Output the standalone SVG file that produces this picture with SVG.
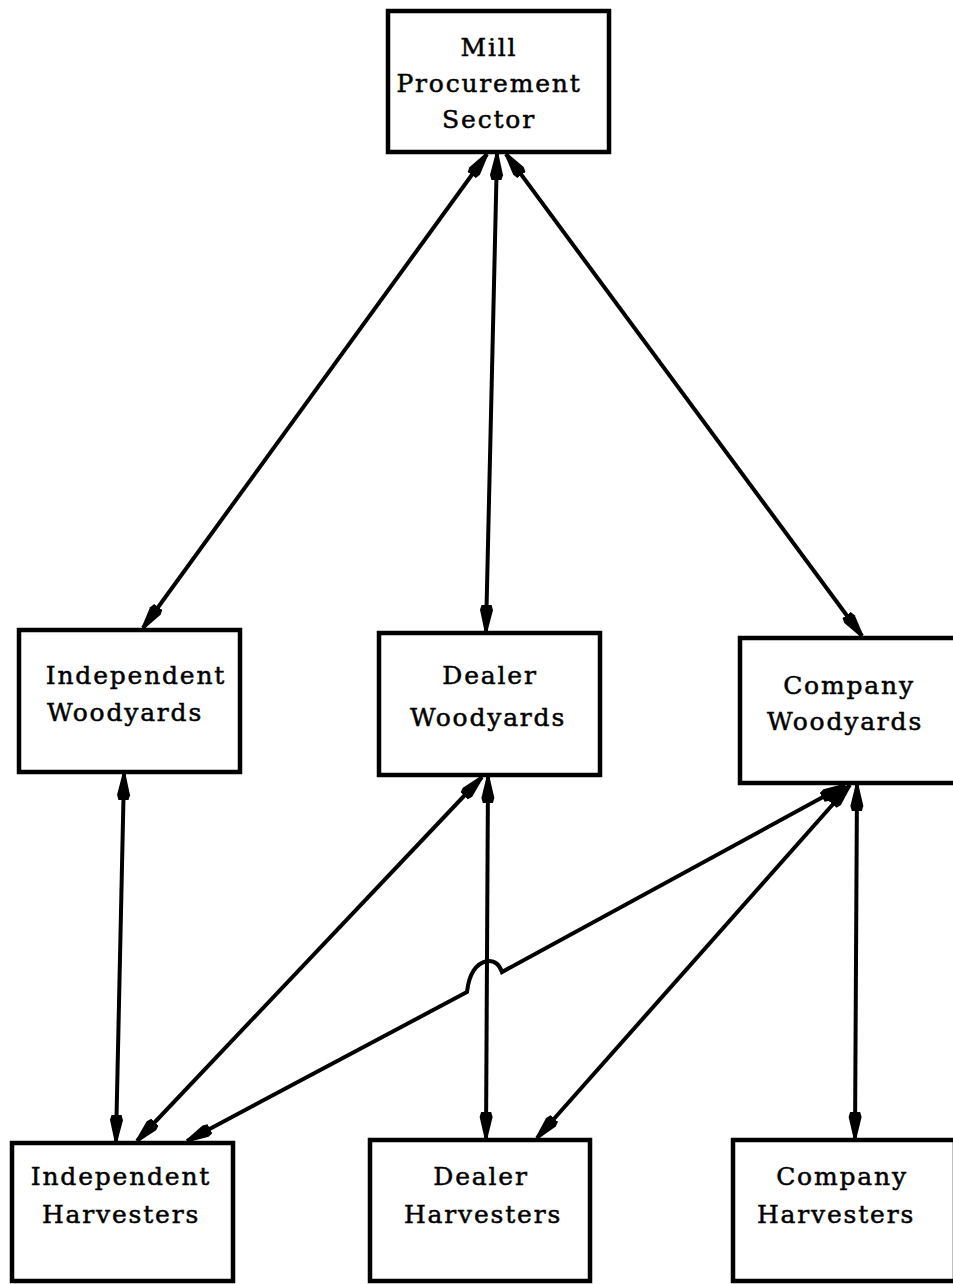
<svg xmlns="http://www.w3.org/2000/svg" width="953" height="1284" viewBox="0 0 953 1284">
<style>
.box{fill:#fff;stroke:#000;stroke-width:4.5}
.lbl{font-family:"DejaVu Serif","Liberation Serif",serif;font-size:25px;letter-spacing:1.8px;fill:#000;stroke:#000;stroke-width:0.5;text-anchor:middle}
.con{fill:none;stroke:#000;stroke-width:4;marker-start:url(#ah);marker-end:url(#ah)}
</style>
<defs>
<marker id="ah" markerUnits="userSpaceOnUse" markerWidth="28" markerHeight="18" viewBox="0 0 28 18" refX="26" refY="9" orient="auto-start-reverse">
<path d="M0,4 L5,2.5 L26,7.5 L26,10.5 L5,15.5 L0,14 z" fill="#000"/>
</marker>
</defs>
<rect width="953" height="1284" fill="#fff"/>
<g id="connectors">
<path class="con" d="M487,154 L143,628"/>
<path class="con" d="M497,154 L486,631"/>
<path class="con" d="M506,154 L862,636"/>
<path class="con" d="M124,774 L116,1141"/>
<path class="con" d="M482,777 L137,1141"/>
<path class="con" d="M488,777 L486,1138"/>
<path class="con" d="M845,785 L502,972 Q498,960 487,961 Q470,965 467,992 L187,1141"/>
<path class="con" d="M850,785 L537,1138"/>
<path class="con" d="M857,785 L855,1138"/>
</g>
<g id="mill">
<rect class="box" x="388" y="11" width="221" height="141"/>
<text class="lbl" x="489" y="56">Mill</text>
<text class="lbl" x="489" y="92">Procurement</text>
<text class="lbl" x="489" y="128">Sector</text>
</g>
<g id="indep-woodyards">
<rect class="box" x="19" y="630" width="221" height="142"/>
<text class="lbl" x="136" y="684">Independent</text>
<text class="lbl" x="125" y="721">Woodyards</text>
</g>
<g id="dealer-woodyards">
<rect class="box" x="379" y="633" width="221" height="142"/>
<text class="lbl" x="490" y="684">Dealer</text>
<text class="lbl" x="488" y="726">Woodyards</text>
</g>
<g id="company-woodyards">
<rect class="box" x="740" y="638" width="220" height="145"/>
<text class="lbl" x="849" y="694">Company</text>
<text class="lbl" x="845" y="730">Woodyards</text>
</g>
<g id="indep-harvesters">
<rect class="box" x="12" y="1143" width="221" height="138"/>
<text class="lbl" x="121" y="1185">Independent</text>
<text class="lbl" x="121" y="1223">Harvesters</text>
</g>
<g id="dealer-harvesters">
<rect class="box" x="370" y="1140" width="220" height="141"/>
<text class="lbl" x="481" y="1185">Dealer</text>
<text class="lbl" x="483" y="1223">Harvesters</text>
</g>
<g id="company-harvesters">
<rect class="box" x="733" y="1140" width="222" height="141"/>
<text class="lbl" x="842" y="1185">Company</text>
<text class="lbl" x="836" y="1223">Harvesters</text>
</g>
</svg>
